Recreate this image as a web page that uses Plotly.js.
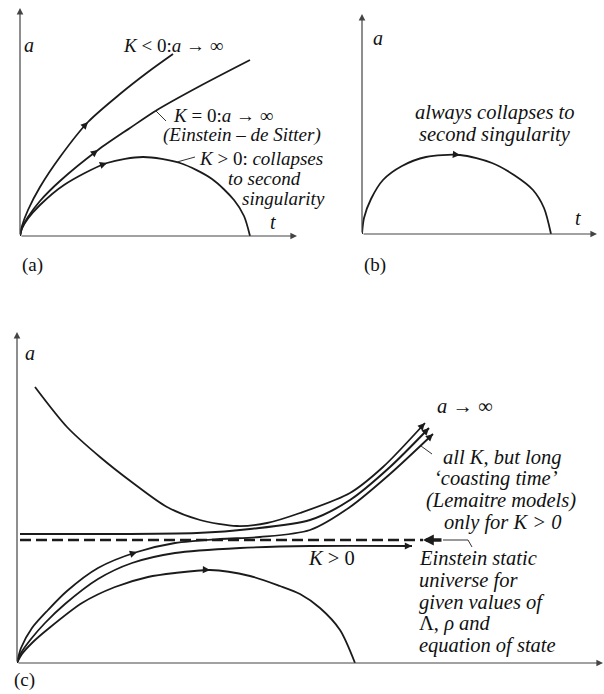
<!DOCTYPE html>
<html>
<head>
<meta charset="utf-8">
<script src="https://cdn.plot.ly/plotly-3.0.1.min.js"></script>
<style>
  html, body { margin: 0; padding: 0; background: #fff; }
  #chart { width: 604px; height: 694px; }
</style>
</head>
<body>
<div id="chart"></div>
<script>
// ---- (a) Friedmann models with Λ = 0 ----
const tOpen  = [0, 0.1, 0.4, 1.0, 2.0, 3.4, 5.0, 6.4, 7.65];            // K < 0
const aOpen  = [0, 0.5, 1.3, 2.45, 3.95, 5.7, 7.1, 8.2, 9.1];
const tFlat  = [0, 0.1, 0.4, 1.0, 2.0, 3.9, 5.5, 6.85, 9.0, 11.5];      // K = 0
const aFlat  = [0, 0.4, 0.95, 1.75, 2.75, 4.3, 5.4, 6.3, 7.5, 8.8];
const tClosed = [0, 0.1, 0.4, 1.0, 2.2, 4.35, 6.15, 8.0, 9.6, 10.7, 11.2, 11.5]; // K > 0
const aClosed = [0, 0.38, 0.88, 1.55, 2.55, 3.65, 3.95, 3.65, 2.85, 1.8, 1.0, 0];

// ---- (b) Λ < 0: every model recollapses ----
const tNegL = [0, 0.1, 0.45, 1.05, 2.0, 3.2, 4.9, 6.5, 7.6, 8.55, 9.1, 9.45];
const aNegL = [0, 0.8, 1.75, 2.7, 3.4, 3.85, 3.95, 3.55, 2.95, 2.2, 1.3, 0];

// ---- (c) Λ > 0 ----
const tBounce = [0.9, 2.5, 4.15, 5.8, 7.5, 9.15, 11.0, 12.5, 14.15, 16.65, 18.3, 20.4];
const aBounce = [13.8, 11.8, 10.3, 9.0, 7.8, 7.15, 6.85, 7.0, 7.5, 8.5, 9.8, 12.0];
const tFromStatic = [0.15, 4.0, 9.0, 11.65, 14.65, 16.65, 18.65, 20.6];
const aFromStatic = [6.45, 6.45, 6.5, 6.7, 7.15, 8.15, 9.8, 11.75];
const tLemaitre = [0, 0.2, 0.75, 1.55, 2.5, 4.05, 6.0, 7.9, 10.15, 12.15, 14.65, 16.65, 18.65, 20.8];
const aLemaitre = [0, 0.75, 1.75, 2.65, 3.6, 4.75, 5.55, 6.0, 6.2, 6.3, 6.65, 7.8, 9.45, 11.45];
const tToStatic = [0, 0.2, 0.7, 1.4, 2.4, 4.05, 5.75, 7.9, 11.15, 14.65, 19.75];
const aToStatic = [0, 0.5, 1.2, 2.0, 2.95, 4.2, 5.0, 5.5, 5.75, 5.85, 5.85];
const tRecollapse = [0, 0.25, 0.8, 1.55, 3.25, 4.9, 6.55, 7.9, 9.65, 11.65, 13.15, 14.15, 15.15, 16.15, 16.9];
const aRecollapse = [0, 0.45, 1.05, 1.7, 3.0, 3.8, 4.3, 4.5, 4.65, 4.35, 3.85, 3.45, 2.75, 1.65, 0];
const tStatic = [0.15, 20.3];
const aStatic = [6.15, 6.15];

const INK = '#1b1b1b';
const AXIS = '#444';
const SERIF = 'Liberation Serif, Times New Roman, serif';
const W = 604, H = 694;

function curve(t, a, xa, ya, extra) {
  return Object.assign({
    x: t, y: a, xaxis: xa, yaxis: ya, type: 'scatter', mode: 'lines',
    line: { color: INK, width: 1.8, shape: 'spline', smoothing: 0.8 },
    hoverinfo: 'skip'
  }, extra || {});
}

// arrowhead sitting on a curve at index i, oriented along the local chord
function headOn(t, a, i, xa, ya) {
  const j0 = Math.max(i - 1, 0), j1 = Math.min(i + 1, t.length - 1);
  const dx = t[j1] - t[j0], dy = a[j1] - a[j0];
  const n = Math.hypot(dx, dy);
  return {
    x: t[i], y: a[i], ax: t[i] - 0.3 * dx / n, ay: a[i] - 0.3 * dy / n,
    xref: xa, yref: ya, axref: xa, ayref: ya, text: '',
    showarrow: true, arrowhead: 2, arrowsize: 0.9, arrowwidth: 1.6,
    arrowcolor: INK, standoff: 0
  };
}

function axisArrow(x0, y0, x1, y1, xa, ya) {
  return {
    x: x1, y: y1, ax: x0, ay: y0, xref: xa, yref: ya, axref: xa, ayref: ya,
    text: '', showarrow: true, arrowhead: 2, arrowsize: 1.1, arrowwidth: 1.2,
    arrowcolor: AXIS, standoff: 0
  };
}

function label(x, y, text, xa, ya, anchor, size) {
  return {
    x: x, y: y, xref: xa, yref: ya, text: text, showarrow: false,
    xanchor: anchor || 'center', yanchor: 'middle', borderpad: 0,
    font: { family: SERIF, size: size || 20.5, color: '#111' }
  };
}

function panelTag(px, py, text) {
  return { x: px / W, y: 1 - py / H, xref: 'paper', yref: 'paper', text: text, showarrow: false,
    xanchor: 'left', yanchor: 'middle', font: { family: SERIF, size: 19, color: '#111' } };
}

function leader(pts, xa, ya) {
  let d = 'M ' + pts[0][0] + ',' + pts[0][1];
  for (let k = 1; k < pts.length; k++) d += ' L ' + pts[k][0] + ',' + pts[k][1];
  return { type: 'path', path: d, xref: xa, yref: ya, line: { color: '#333', width: 1 } };
}

const traces = [
  curve(tOpen, aOpen, 'x', 'y'),
  curve(tFlat, aFlat, 'x', 'y'),
  curve(tClosed, aClosed, 'x', 'y'),
  curve(tNegL, aNegL, 'x2', 'y2'),
  curve(tBounce, aBounce, 'x3', 'y3'),
  curve(tFromStatic, aFromStatic, 'x3', 'y3', { line: { color: INK, width: 2, shape: 'spline', smoothing: 0.8 } }),
  curve(tLemaitre, aLemaitre, 'x3', 'y3'),
  curve(tToStatic, aToStatic, 'x3', 'y3'),
  curve(tRecollapse, aRecollapse, 'x3', 'y3'),
  curve(tStatic, aStatic, 'x3', 'y3', { line: { color: INK, width: 2.4, dash: '11px,5px' } })
];

const annotations = [
  // axes
  axisArrow(0, 0, 0, 11.4, 'x', 'y'),
  axisArrow(0, 0, 13.85, 0, 'x', 'y'),
  axisArrow(0, 0, 0, 11.0, 'x2', 'y2'),
  axisArrow(0, 0, 11.75, 0, 'x2', 'y2'),
  axisArrow(0, 0, 0, 16.55, 'x3', 'y3'),
  axisArrow(0, 0, 29.3, 0, 'x3', 'y3'),
  // direction of evolution
  headOn(tOpen, aOpen, 5, 'x', 'y'),
  headOn(tFlat, aFlat, 5, 'x', 'y'),
  headOn(tClosed, aClosed, 5, 'x', 'y'),
  headOn(tNegL, aNegL, 6, 'x2', 'y2'),
  headOn(tLemaitre, aLemaitre, 6, 'x3', 'y3'),
  headOn(tRecollapse, aRecollapse, 8, 'x3', 'y3'),
  headOn(tToStatic, aToStatic, tToStatic.length - 1, 'x3', 'y3'),
  headOn(tBounce, aBounce, tBounce.length - 1, 'x3', 'y3'),
  headOn(tFromStatic, aFromStatic, tFromStatic.length - 1, 'x3', 'y3'),
  headOn(tLemaitre, aLemaitre, tLemaitre.length - 1, 'x3', 'y3'),
  // static solution marker
  {
    x: tStatic[1], y: aStatic[1], ax: tStatic[1] + 1.0, ay: aStatic[1],
    xref: 'x3', yref: 'y3', axref: 'x3', ayref: 'y3', text: '',
    showarrow: true, arrowhead: 2, arrowsize: 0.6, arrowwidth: 3.6,
    arrowcolor: INK, standoff: 0
  },

  // (a) texts
  label(0.45, 9.55, '<i>a</i>', 'x', 'y', 'center', 20),
  label(12.65, 0.7, '<i>t</i>', 'x', 'y', 'center', 20),
  label(5.1, 9.55, '<i>K</i> &lt; 0:<i>a</i> → ∞', 'x', 'y', 'left', 19),
  label(7.6, 6.05, '<i>K</i> = 0:<i>a</i> → ∞', 'x', 'y', 'left', 19),
  label(7.1, 5.05, '<i>(Einstein – de Sitter)</i>', 'x', 'y', 'left', 19),
  label(8.9, 3.9, '<i>K</i> &gt; 0: <i>collapses</i>', 'x', 'y', 'left', 19),
  label(10.35, 2.9, '<i>to second</i>', 'x', 'y', 'left', 19),
  label(11.05, 1.9, '<i>singularity</i>', 'x', 'y', 'left', 19),
  panelTag(20, 265, '(a)'),

  // (b) texts
  label(0.8, 9.8, '<i>a</i>', 'x2', 'y2', 'center', 20),
  label(10.8, 0.8, '<i>t</i>', 'x2', 'y2', 'center', 20),
  label(6.65, 6.1, '<i>always collapses to</i>', 'x2', 'y2', 'center'),
  label(6.65, 5.0, '<i>second singularity</i>', 'x2', 'y2', 'center'),
  panelTag(362, 265, '(b)'),

  // (c) texts
  label(0.65, 15.5, '<i>a</i>', 'x3', 'y3', 'center', 20),
  label(27.25, -0.85, '<i>t</i>', 'x3', 'y3', 'center', 20),
  label(22.4, 12.85, '<i>a</i> → ∞', 'x3', 'y3', 'center'),
  label(24.25, 10.3, '<i>all K, but long</i>', 'x3', 'y3', 'center'),
  label(23.95, 9.25, '<i>‘coasting time’</i>', 'x3', 'y3', 'center'),
  label(24.2, 8.15, '<i>(Lemaitre models)</i>', 'x3', 'y3', 'center'),
  label(24.25, 7.05, '<i>only for K &gt; 0</i>', 'x3', 'y3', 'center'),
  label(15.7, 5.25, '<i>K</i> &gt; 0', 'x3', 'y3', 'center'),
  label(20.05, 5.25, '<i>Einstein static</i>', 'x3', 'y3', 'left'),
  label(20.05, 4.15, '<i>universe for</i>', 'x3', 'y3', 'left'),
  label(20.05, 3.05, '<i>given values of</i>', 'x3', 'y3', 'left'),
  label(20.05, 2.0, 'Λ, <i>ρ and</i>', 'x3', 'y3', 'left'),
  label(20.05, 0.9, '<i>equation of state</i>', 'x3', 'y3', 'left'),
  panelTag(12, 680, '(c)')
];

const shapes = [
  leader([[6.75, 6.3], [7.3, 5.75]], 'x', 'y'),
  leader([[7.85, 3.7], [8.75, 3.95]], 'x', 'y'),
  leader([[20.2, 10.85], [20.75, 10.45]], 'x3', 'y3'),
  leader([[21.3, 6.15], [22.55, 6.15], [22.75, 5.8]], 'x3', 'y3')
];

const hidden = { visible: false, fixedrange: true };
function ax(range, px0, px1, vertical) {
  const dom = vertical ? [1 - px1 / H, 1 - px0 / H] : [px0 / W, px1 / W];
  return Object.assign({ range: range, domain: dom }, hidden);
}

const layout = {
  width: W, height: H,
  margin: { l: 0, r: 0, t: 0, b: 0, pad: 0 },
  paper_bgcolor: '#fff', plot_bgcolor: 'rgba(0,0,0,0)',
  showlegend: false, hovermode: false,
  xaxis:  Object.assign(ax([0, 14], 20, 300, false), { anchor: 'y' }),
  yaxis:  Object.assign(ax([0, 11.5], 6, 236, true), { anchor: 'x' }),
  xaxis2: Object.assign(ax([0, 12], 362, 602, false), { anchor: 'y2' }),
  yaxis2: Object.assign(ax([0, 11.5], 4, 234, true), { anchor: 'x2' }),
  xaxis3: Object.assign(ax([0, 29.35], 17, 604, false), { anchor: 'y3' }),
  yaxis3: Object.assign(ax([0, 16.6], 331, 663, true), { anchor: 'x3' }),
  annotations: annotations,
  shapes: shapes
};

Plotly.newPlot('chart', traces, layout, { displayModeBar: false, staticPlot: true });
</script>
</body>
</html>
